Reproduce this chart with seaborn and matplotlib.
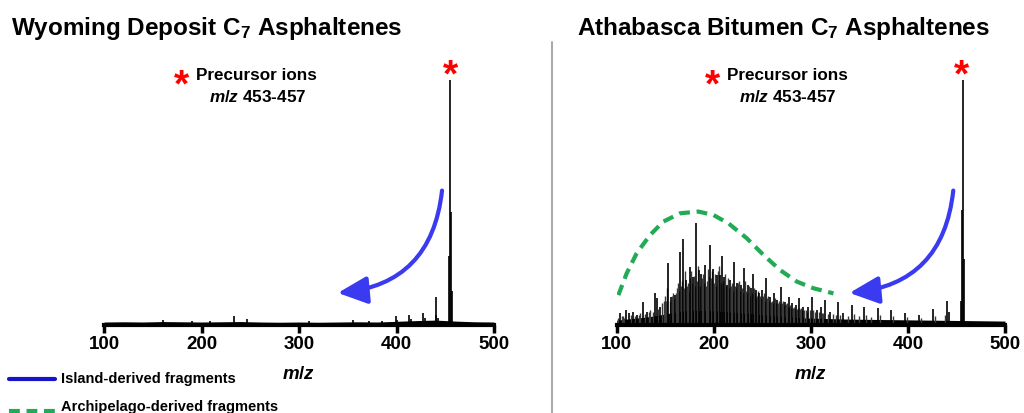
import matplotlib.pyplot as plt
import seaborn as sns
from matplotlib.patches import FancyArrowPatch
from matplotlib.lines import Line2D

sns.set_style("white")
plt.rcParams["font.family"] = ["Liberation Sans", "DejaVu Sans"]
plt.rcParams["font.weight"] = "bold"
plt.rcParams["text.color"] = "black"
plt.rcParams["xtick.color"] = "black"
plt.rcParams["axes.labelcolor"] = "black"
plt.rcParams["mathtext.fontset"] = "custom"
plt.rcParams["mathtext.rm"] = "Liberation Sans:bold"
plt.rcParams["mathtext.bf"] = "Liberation Sans:bold"
plt.rcParams["mathtext.it"] = "Liberation Sans:italic:bold"

# Wyoming deposit spectrum (m/z, relative intensity)
wy_mz = [160, 190, 209, 233, 247, 310, 355, 372, 385, 399, 401, 413, 415,
         427, 429, 440, 441, 443, 454, 455, 456, 457]
wy_int = [2.0, 1.8, 1.5, 3.7, 2.6, 1.8, 2.2, 1.8, 1.5, 3.5, 2.0, 4.0, 2.5,
          5.0, 3.0, 4.0, 11.4, 3.0, 28, 100, 46, 14]
wy_floor_mz = [100, 120, 140, 160, 180, 200, 220, 240, 260, 280, 300, 320, 340,
               360, 380, 400, 420, 440, 460, 480, 500]
wy_floor = [1.2, 1.3, 1.2, 1.4, 1.3, 1.2, 1.3, 1.4, 1.2, 1.1, 1.2, 1.1, 1.2,
            1.3, 1.2, 1.5, 1.8, 2.0, 1.6, 1.3, 1.2]

# Athabasca bitumen spectrum
ab_mz = [103, 110, 113, 117, 121, 127, 131, 139, 141, 145, 153, 156, 160, 165,
         168, 171, 175, 179, 182, 185, 187, 191, 196, 199, 203, 206, 208, 211,
         214, 217, 221, 224, 228, 231, 235, 238, 240, 244, 247, 250, 254, 258,
         262, 265, 269, 273, 277, 281, 285, 288, 292, 297, 301, 306, 310, 315,
         320, 328, 333, 342, 355, 369, 383, 397, 411, 426, 440, 442,
         455, 456, 457, 458]
ab_int = [4.8, 6.1, 4.8, 5.4, 4.0, 9.3, 5.4, 12.9, 10.9, 7.5, 25.2, 11.6, 12.2, 29.9,
          35.0, 18.4, 23.8, 19.7, 41.8, 22.4, 21.0, 24.5, 32.7, 23.0, 20.4, 20.4, 28.2, 19.7,
          16.3, 18.4, 25.9, 17.0, 16.3, 23.1, 16.3, 15.0, 21.0, 14.3, 12.9, 14.3, 19.0, 11.6,
          12.9, 10.2, 15.6, 9.5, 11.6, 8.8, 8.2, 10.9, 7.5, 7.5, 11.6, 6.1, 7.5, 10.2,
          5.4, 9.5, 4.8, 8.2, 7.5, 6.8, 6.1, 4.8, 4.1, 6.4, 9.8, 5.4,
          10, 47, 100, 27]
ab_minor_mz = [101, 105, 106, 108, 115, 119, 123, 124, 129, 133, 134, 137, 143,
               147, 149, 150, 151, 152, 155, 157, 158, 159, 161, 162, 163, 164,
               166, 167, 169, 170, 172, 173, 174, 176, 177, 178, 180, 181, 183,
               184, 186, 188, 189, 190, 192, 193, 194, 195, 197, 198, 200, 201,
               202, 204, 205, 207, 209, 210, 212, 213, 215, 216, 218, 219, 220,
               222, 223, 225, 226, 227, 229, 230, 232, 233, 234, 236, 237, 239,
               241, 242, 243, 245, 246, 248, 249, 251, 252, 253, 255, 256, 257,
               259, 260, 261, 263, 264, 266, 267, 268, 270, 271, 272, 274, 275,
               276, 278, 279, 280, 282, 283, 284, 286, 287, 289, 290, 291, 293,
               295, 296, 299, 302, 304, 308, 312, 313, 318, 323, 326, 330, 338,
               344, 350, 357, 362, 371, 385, 399, 413, 428, 438]
ab_minor_int = [3.0, 3.5, 3.8, 3.0, 4.0, 3.6, 4.2, 5.0, 4.5, 5.2, 6.0, 5.5, 6.5,
                9.0, 10, 12, 10, 15, 10, 12, 13, 11, 13, 15, 17, 14,
                16, 18, 15, 22, 16, 17, 14, 19, 22, 17, 20, 16, 18,
                24, 16, 19, 21, 17, 16, 18, 23, 20, 19, 22, 17, 21,
                16, 22, 24, 17, 18, 15, 21, 16, 19, 15, 16, 17, 14,
                16, 15, 17, 18, 14, 15, 13, 18, 14, 13, 16, 12, 13,
                15, 13, 11, 12, 14, 12, 11, 12, 13, 10, 11, 12, 10,
                9.5, 10, 9, 11, 9, 9, 10, 8.5, 9, 10, 8, 8.5, 9,
                7.5, 7.5, 8, 7, 7, 7.5, 6.5, 6.5, 7, 6.5, 7, 6, 6,
                6, 5.5, 6, 6, 5.5, 5.5, 5, 5, 4.5, 4.5, 4.2, 4, 3.8,
                4.5, 3.6, 4.0, 3.2, 4.0, 3.8, 3.2, 3.0, 3.5, 4.0]
ab_floor_mz = [100, 110, 120, 130, 140, 150, 160, 170, 180, 190, 200, 210, 220,
               230, 240, 250, 260, 270, 280, 290, 300, 320, 340, 360, 380, 400,
               420, 440, 460, 480, 500]
ab_floor = [2.0, 2.4, 2.8, 3.2, 3.8, 4.5, 5.2, 5.8, 6.0, 6.0, 5.8, 5.5, 5.2,
            4.9, 4.6, 4.2, 3.9, 3.6, 3.3, 3.0, 2.8, 2.6, 2.4, 2.3, 2.2, 2.1,
            2.0, 1.9, 1.8, 1.7, 1.6]

# archipelago envelope (green dashed guide)
hump_mz = [101.7, 110.3, 120.6, 134.3, 148.0, 165.3, 184.1, 199.6, 215.1,
           234.0, 251.2, 268.4, 285.6, 302.7, 323.3]
hump_int = [12.2, 21.1, 29.3, 36.7, 42.2, 45.6, 46.3, 44.9, 41.5,
            35.4, 28.6, 22.4, 17.7, 15.0, 12.9]

ticks = [100, 200, 300, 400, 500]
titles = ["Wyoming Deposit C$_7$ Asphaltenes", "Athabasca Bitumen C$_7$ Asphaltenes"]

blue = "#3a3af0"
green = "#22aa55"

fig = plt.figure(figsize=(10.24, 4.13), dpi=100)
W, H = 1024, 413
ax1 = fig.add_axes([104 / W, 88 / H, 390 / W, 245 / H])
ax2 = fig.add_axes([616.7 / W, 88 / H, 388.3 / W, 245 / H])

for ax in (ax1, ax2):
    ax.set_xlim(100, 500)
    ax.set_ylim(0, 100)
    for s in ("left", "top", "right"):
        ax.spines[s].set_visible(False)
    ax.spines["bottom"].set_linewidth(3)
    ax.spines["bottom"].set_color("black")
    ax.set_yticks([])
    ax.set_xticks(ticks)
    ax.set_xticklabels([str(t) for t in ticks], fontsize=13.5, fontweight="bold")
    ax.tick_params(axis="x", direction="out", length=6, width=2.5, pad=2, bottom=True)
    ax.set_xlabel("$m/z$", fontsize=13.5, labelpad=9)
    ax.patch.set_alpha(0)

# spectra
ax1.fill_between(wy_floor_mz, 0, wy_floor, color="black", lw=0)
ax1.vlines(wy_mz, 0, wy_int, color="black", lw=1.2)

ax2.fill_between(ab_floor_mz, 0, ab_floor, color="black", lw=0)
ax2.vlines(ab_minor_mz, 0, ab_minor_int, color="#3a3a3a", lw=1.0)
ax2.vlines(ab_mz, 0, ab_int, color="black", lw=1.2)
sns.lineplot(x=hump_mz, y=hump_int, ax=ax2, color=green, lw=3,
             linestyle=(0, (2.6, 1.6)), sort=False)

for ax in (ax1, ax2):
    # curved arrow for island fragments
    arr = FancyArrowPatch((447, 56), (337, 13), connectionstyle="arc3,rad=-0.42",
                          arrowstyle="-|>,head_length=1.5,head_width=0.7",
                          mutation_scale=12, color=blue, lw=3, clip_on=False)
    ax.add_patch(arr)
    ax.text(455, 101.5, "*", color="red", fontsize=28, ha="center", va="center",
            clip_on=False)

fig.text(11 / W, 1 - 28 / H, titles[0], fontsize=17.5, ha="left", va="center")
fig.text(783 / W, 1 - 28 / H, titles[1], fontsize=17.5, ha="center", va="center")

for x0 in (181.7, 712):
    fig.text(x0 / W, 1 - 86 / H, "*", color="red", fontsize=28, ha="center", va="center")
for x0 in (196.5, 727):
    fig.text(x0 / W, 1 - 75.5 / H, "Precursor ions", fontsize=12.3, ha="left", va="center")
for x0 in (209, 739):
    fig.text(x0 / W, 1 - 96.5 / H, "$m/z$ 453-457", fontsize=12.3, ha="left", va="center")

# separator
fig.add_artist(Line2D([551.7 / W, 551.7 / W], [0, 1 - 42 / H], color="#aaaaaa", lw=1.5))

# legend
fig.add_artist(Line2D([9 / W, 55 / W], [1 - 379 / H, 1 - 379 / H], color="#1414c8", lw=3))
fig.text(61 / W, 1 - 379 / H, "Island-derived fragments", fontsize=10.5, ha="left", va="center")
fig.add_artist(Line2D([9 / W, 55 / W], [1 - 411 / H, 1 - 411 / H], color=green, lw=3,
                      linestyle=(0, (2.6, 1.6))))
fig.text(61 / W, 1 - 407 / H, "Archipelago-derived fragments", fontsize=10.5, ha="left",
         va="center")

fig.savefig("out.png", dpi=100)
